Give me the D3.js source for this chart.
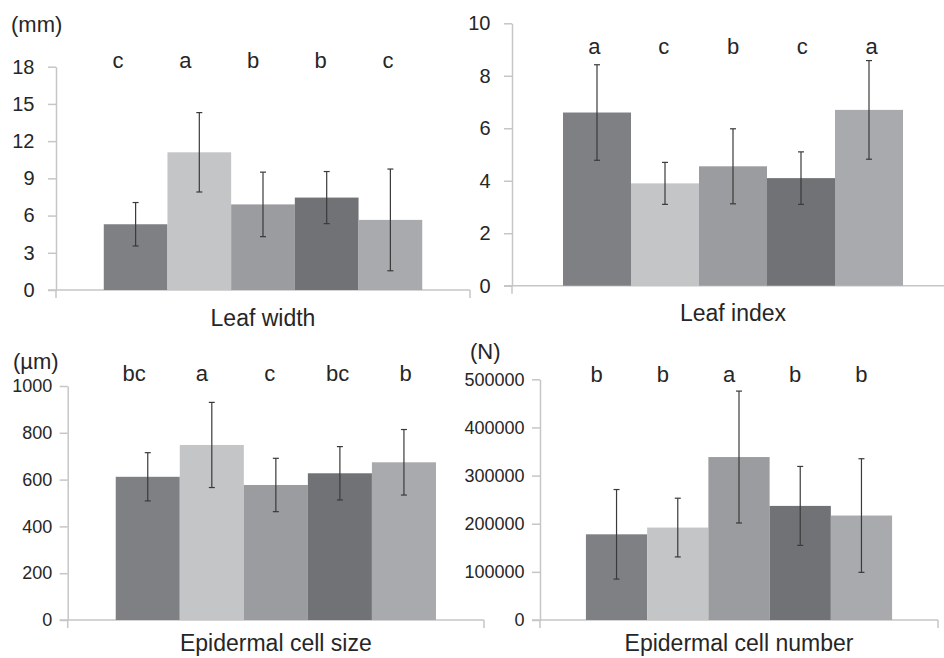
<!DOCTYPE html>
<html>
<head>
<meta charset="utf-8">
<script src="https://cdn.jsdelivr.net/npm/d3@7"></script>
<style>
  html, body { margin: 0; padding: 0; background: #fff; }
  svg { display: block; }
  text { font-family: "Liberation Sans", Arial, sans-serif; fill: #262626; }
</style>
</head>
<body>
<svg id="chart" width="944" height="658"></svg>
<script>
// ---- data ----
const groups = ["G1", "G2", "G3", "G4", "G5"];

const leafWidthMean = [5.3, 11.1, 6.9, 7.45, 5.65];
const leafWidthErr  = [1.75, 3.2, 2.6, 2.1, 4.1];
const leafWidthLetters = ["c", "a", "b", "b", "c"];
const leafWidthTicks = [0, 3, 6, 9, 12, 15, 18];

const leafIndexMean = [6.6, 3.9, 4.55, 4.1, 6.7];
const leafIndexErr  = [1.82, 0.8, 1.43, 1.0, 1.88];
const leafIndexLetters = ["a", "c", "b", "c", "a"];
const leafIndexTicks = [0, 2, 4, 6, 8, 10];

const cellSizeMean = [612, 748, 577, 627, 674];
const cellSizeErr  = [103, 182, 114, 114, 140];
const cellSizeLetters = ["bc", "a", "c", "bc", "b"];
const cellSizeTicks = [0, 200, 400, 600, 800, 1000];

const cellNumMean = [178000, 192000, 338500, 237000, 217000];
const cellNumErr  = [93000, 61000, 137000, 82000, 118000];
const cellNumLetters = ["b", "b", "a", "b", "b"];
const cellNumTicks = [0, 100000, 200000, 300000, 400000, 500000];

const barColors = ["#7f8084", "#c4c5c7", "#9b9c9f", "#717276", "#a9aaad"];

// ---- layout (styles/positions) ----
const panels = [
  { title: "Leaf width", unit: "(mm)", mean: leafWidthMean, err: leafWidthErr, letters: leafWidthLetters, ticks: leafWidthTicks,
    ax: 56, xEnd: 470, y0: 290, yTop: 66.7, tickFont: 20, labelGap: 21.5,
    unitX: 11, unitY: 32, letterY: 68, letterK: 1.06, letterDx: -10, titleY: 326 },
  { title: "Leaf index", unit: null, mean: leafIndexMean, err: leafIndexErr, letters: leafIndexLetters, ticks: leafIndexTicks,
    ax: 512, xEnd: 954, y0: 285.7, yTop: 23.3, tickFont: 20, labelGap: 21.5,
    letterY: 54, letterK: 1.02, letterDx: 0, titleY: 321 },
  { title: "Epidermal cell size", unit: "(µm)", mean: cellSizeMean, err: cellSizeErr, letters: cellSizeLetters, ticks: cellSizeTicks,
    ax: 67.7, xEnd: 484, y0: 620, yTop: 386, tickFont: 18, labelGap: 15.5,
    unitX: 13, unitY: 369, letterY: 381, letterK: 1.06, letterDx: -6, titleY: 651 },
  { title: "Epidermal cell number", unit: "(N)", mean: cellNumMean, err: cellNumErr, letters: cellNumLetters, ticks: cellNumTicks,
    ax: 540, xEnd: 938, y0: 620, yTop: 379.3, tickFont: 18, labelGap: 15.5,
    unitX: 470, unitY: 359, letterY: 382, letterK: 1.08, letterDx: -10, titleY: 651 }
];

const svg = d3.select("#chart");
const axisColor = "#c6c6c6";

panels.forEach(p => {
  const g = svg.append("g");
  const maxT = p.ticks[p.ticks.length - 1];
  const y = d3.scaleLinear().domain([0, maxT]).range([p.y0, p.yTop]);
  const x = d3.scaleBand().domain(groups).range([p.ax, p.xEnd]).paddingInner(0).paddingOuter(0.75);

  // y axis
  const yAxis = d3.axisLeft(y).tickValues(p.ticks).tickSize(8).tickSizeOuter(0).tickPadding(p.labelGap - 8)
    .tickFormat(d3.format("d"));
  const ya = g.append("g").attr("transform", `translate(${p.ax},0)`).call(yAxis);
  ya.select(".domain").attr("stroke", axisColor).attr("stroke-width", 1.5);
  ya.selectAll(".tick line").attr("stroke", axisColor).attr("stroke-width", 1.5);
  ya.selectAll(".tick text").style("font-size", p.tickFont + "px")
    .style("font-family", '"Liberation Sans", Arial, sans-serif').attr("fill", "#262626");

  // x axis line + ticks at category edges
  g.append("line").attr("x1", p.ax - 8).attr("x2", p.xEnd).attr("y1", p.y0).attr("y2", p.y0)
    .attr("stroke", axisColor).attr("stroke-width", 1.5);
  [p.ax, p.xEnd].forEach(xx => {
    g.append("line").attr("x1", xx).attr("x2", xx).attr("y1", p.y0).attr("y2", p.y0 + 8)
      .attr("stroke", axisColor).attr("stroke-width", 1.5);
  });

  // bars
  g.selectAll("rect.bar").data(p.mean).join("rect").attr("class", "bar")
    .attr("x", (d, i) => x(groups[i]))
    .attr("width", x.bandwidth())
    .attr("y", d => y(d))
    .attr("height", d => p.y0 - y(d))
    .attr("fill", (d, i) => barColors[i]);

  // error bars
  const eg = g.append("g").attr("stroke", "#3a3a3a").attr("stroke-width", 1.2);
  p.mean.forEach((m, i) => {
    const cx = x(groups[i]) + x.bandwidth() / 2;
    const top = y(m + p.err[i]), bot = y(m - p.err[i]);
    eg.append("line").attr("x1", cx).attr("x2", cx).attr("y1", top).attr("y2", bot);
    eg.append("line").attr("x1", cx - 3).attr("x2", cx + 3).attr("y1", top).attr("y2", top);
    eg.append("line").attr("x1", cx - 3).attr("x2", cx + 3).attr("y1", bot).attr("y2", bot);
  });

  // significance letters
  const mid = (p.ax + p.xEnd) / 2;
  g.selectAll("text.letter").data(p.letters).join("text").attr("class", "letter")
    .attr("x", (d, i) => mid + (i - 2) * x.step() * p.letterK + p.letterDx)
    .attr("y", p.letterY)
    .attr("text-anchor", "middle")
    .style("font-size", "22px")
    .text(d => d);

  // unit
  if (p.unit) {
    g.append("text").attr("x", p.unitX).attr("y", p.unitY).style("font-size", "22px").text(p.unit);
  }

  // category title
  g.append("text").attr("x", mid).attr("y", p.titleY).attr("text-anchor", "middle")
    .style("font-size", "23px").text(p.title);
});
</script>
</body>
</html>
